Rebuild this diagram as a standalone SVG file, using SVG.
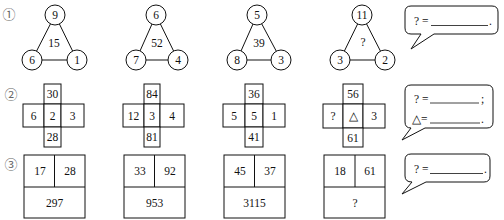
<svg xmlns="http://www.w3.org/2000/svg" width="504" height="220" viewBox="0 0 504 220">
<style>
text{font-family:"Liberation Serif","Times New Roman",serif;font-size:11.5px;fill:#111;text-anchor:middle;dominant-baseline:central}
.num{font-family:"Noto Sans CJK SC","DejaVu Sans",sans-serif;font-size:13px;fill:#666}
.c{fill:#fff;stroke:#111;stroke-width:1}
.e{stroke:#111;stroke-width:1;fill:none}
.g{stroke:#888;stroke-width:1.8}
.cell{fill:#fff;stroke:#111;stroke-width:1}
.bub{fill:#fff;stroke:#111;stroke-width:1}
.blank{stroke:#111;stroke-width:0.8}
.l{text-anchor:start}
</style>
<rect width="504" height="220" fill="#fff"/>
<text class="num" x="9" y="13">①</text>
<text class="num" x="11" y="93">②</text>
<text class="num" x="11" y="163">③</text>

<g id="connectors">
<path class="e" d="M55,15 L32,60 M55,15 L77,60"/>
<path class="g" d="M32,60 L77,60"/>
<path class="e" d="M156,15 L136,60 M156,15 L178,60"/>
<path class="g" d="M136,60 L178,60"/>
<path class="e" d="M257,15 L237,60 M257,15 L281,60"/>
<path class="g" d="M237,60 L281,60"/>
<path class="e" d="M362,15 L340,60 M362,15 L385,60"/>
<path class="g" d="M340,60 L385,60"/>
</g>

<g id="tri1">
<circle class="c" cx="55" cy="15" r="10"/><text x="55" y="15">9</text>
<circle class="c" cx="32" cy="60" r="10"/><text x="32" y="60">6</text>
<circle class="c" cx="77" cy="60" r="10"/><text x="77" y="60">1</text>
<text x="54" y="43">15</text>
</g>
<g id="tri2">
<circle class="c" cx="156" cy="15" r="10"/><text x="156" y="15">6</text>
<circle class="c" cx="136" cy="60" r="10"/><text x="136" y="60">7</text>
<circle class="c" cx="178" cy="60" r="10"/><text x="178" y="60">4</text>
<text x="157" y="43">52</text>
</g>
<g id="tri3">
<circle class="c" cx="257" cy="15" r="10"/><text x="257" y="15">5</text>
<circle class="c" cx="237" cy="60" r="10"/><text x="237" y="60">8</text>
<circle class="c" cx="281" cy="60" r="10"/><text x="281" y="60">3</text>
<text x="259" y="43">39</text>
</g>
<g id="tri4">
<circle class="c" cx="362" cy="15" r="10"/><text x="362" y="15">11</text>
<circle class="c" cx="340" cy="60" r="10"/><text x="340" y="60">3</text>
<circle class="c" cx="385" cy="60" r="10"/><text x="385" y="60">2</text>
<text x="363" y="42">?</text>
</g>
<g id="bubble1">
<path class="bub" d="M411,6 H492 Q498,6 498,12 V28 Q498,34 492,34 H434 L411,49 L421,34 H411 Q405,34 405,28 V12 Q405,6 411,6 Z"/>
<text class="l" x="414" y="21">? =</text>
<line class="blank" x1="431" y1="25.5" x2="488" y2="25.5"/>
<text class="l" x="489" y="21">.</text>
</g>

<g id="cross1">
<rect class="cell" x="44" y="84" width="17" height="20"/><text x="52.5" y="94">30</text>
<rect class="cell" x="23" y="104" width="21" height="23"/><text x="33.5" y="115.5">6</text>
<rect class="cell" x="44" y="104" width="17" height="23"/><text x="52.5" y="115.5">2</text>
<rect class="cell" x="61" y="104" width="23" height="23"/><text x="72.5" y="115.5">3</text>
<rect class="cell" x="44" y="127" width="17" height="20"/><text x="52.5" y="137">28</text>
</g>
<g id="cross2">
<rect class="cell" x="144" y="84" width="16" height="20"/><text x="152" y="94">84</text>
<rect class="cell" x="123" y="104" width="21" height="23"/><text x="133.5" y="115.5">12</text>
<rect class="cell" x="144" y="104" width="16" height="23"/><text x="152" y="115.5">3</text>
<rect class="cell" x="160" y="104" width="24" height="23"/><text x="172" y="115.5">4</text>
<rect class="cell" x="144" y="127" width="16" height="20"/><text x="152" y="137">81</text>
</g>
<g id="cross3">
<rect class="cell" x="245" y="84" width="18" height="20"/><text x="254" y="94">36</text>
<rect class="cell" x="223" y="104" width="22" height="23"/><text x="234" y="115.5">5</text>
<rect class="cell" x="245" y="104" width="18" height="23"/><text x="254" y="115.5">5</text>
<rect class="cell" x="263" y="104" width="22" height="23"/><text x="274" y="115.5">1</text>
<rect class="cell" x="245" y="127" width="18" height="20"/><text x="254" y="137">41</text>
</g>
<g id="cross4">
<rect class="cell" x="343" y="84" width="20" height="20"/><text x="353" y="94">56</text>
<rect class="cell" x="323" y="104" width="20" height="24"/><text x="333" y="116">?</text>
<rect class="cell" x="343" y="104" width="20" height="24"/><text x="353" y="116">△</text>
<rect class="cell" x="363" y="104" width="22" height="24"/><text x="374" y="116">3</text>
<rect class="cell" x="343" y="128" width="20" height="19"/><text x="353" y="137.5">61</text>
</g>
<g id="bubble2">
<path class="bub" d="M411,85 H487 Q493,85 493,91 V122 Q493,128 487,128 H425 L402,140 L411,128 Q405,128 405,122 V91 Q405,85 411,85 Z"/>
<text class="l" x="414" y="99">? =</text>
<line class="blank" x1="430" y1="103" x2="479" y2="103"/>
<text class="l" x="481" y="99">;</text>
<text class="l" x="412" y="119">△=</text>
<line class="blank" x1="430" y1="123" x2="480" y2="123"/>
<text class="l" x="481" y="119">.</text>
</g>

<g id="box1">
<rect class="cell" x="24" y="155" width="61" height="63"/>
<path class="e" d="M24,187 H85 M54.5,155 V187"/>
<text x="40" y="171">17</text><text x="70" y="171">28</text><text x="54.5" y="203">297</text>
</g>
<g id="box2">
<rect class="cell" x="124" y="155" width="61" height="63"/>
<path class="e" d="M124,187 H185 M154.5,155 V187"/>
<text x="140" y="171">33</text><text x="170" y="171">92</text><text x="154.5" y="203">953</text>
</g>
<g id="box3">
<rect class="cell" x="224" y="155" width="61" height="63"/>
<path class="e" d="M224,187 H285 M254.5,155 V187"/>
<text x="240" y="171">45</text><text x="270" y="171">37</text><text x="254.5" y="203">3115</text>
</g>
<g id="box4">
<rect class="cell" x="324" y="155" width="61" height="63"/>
<path class="e" d="M324,187 H385 M355,155 V187"/>
<text x="340" y="171">18</text><text x="370" y="171">61</text><text x="355" y="203">?</text>
</g>
<g id="bubble3">
<path class="bub" d="M411,154 H484 Q490,154 490,160 V176 Q490,182 484,182 H426 L402,194 L412,182 Q405,182 405,176 V160 Q405,154 411,154 Z"/>
<text class="l" x="414" y="169">? =</text>
<line class="blank" x1="430" y1="173.5" x2="483" y2="173.5"/>
<text class="l" x="484" y="169">.</text>
</g>
</svg>
